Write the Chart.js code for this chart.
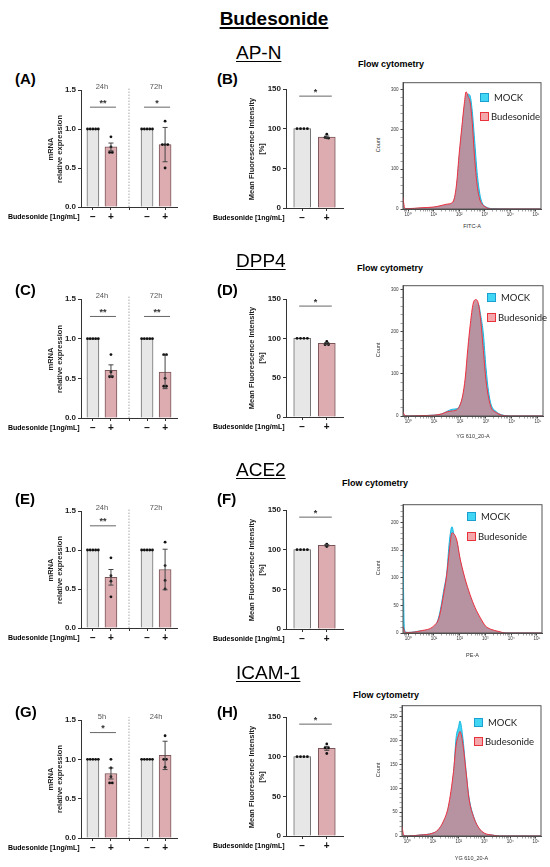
<!DOCTYPE html>
<html>
<head>
<meta charset="utf-8">
<script src="https://cdn.jsdelivr.net/npm/chart.js@4.4.1/dist/chart.umd.min.js"></script>
<style>
body { margin: 0; background: #fff; font-family: "Liberation Sans", Arial, sans-serif; }
#page { position: relative; width: 550px; height: 867px; overflow: hidden; }
.t { position: absolute; white-space: nowrap; color: #000; }
canvas { position: absolute; }
</style>
</head>
<body>
<div id="page"></div>
<script>
// ---- data ----
var treatLabels = ['\u2212', '+'];
var logTickLabels = ['10\u2070', '10\u00b9', '10\u00b2', '10\u00b3', '10\u2074', '10\u2075'];

// AP-N
var apnTimes = ['24h', '72h'];
var apnMrnaMean = [1.0, 0.77, 1.0, 0.80];
var apnMrnaErr = [0, 0.05, 0, 0.22];
var apnMrnaDots = [[1, 1, 1, 1, 1], [0.9, 0.77, 0.7, 0.7], [1, 1, 1, 1, 1], [1.1, 0.8, 0.8, 0.8, 0.5]];
var apnMrnaSig = ['**', '*'];
var apnMfiMean = [100, 89.5];
var apnMfiErr = [0, 1.2];
var apnMfiDots = [[100, 100, 100, 100], [93, 89, 88.5, 88]];
var apnFlowX = [-0.2, -0.15, -0.1, 0, 0.5, 1, 1.25, 1.5, 1.7, 1.8, 1.9, 2, 2.1, 2.2, 2.27, 2.35, 2.42, 2.5, 2.6, 2.7, 2.8, 2.9, 3.05, 3.3, 4, 5.2];
var apnFlowMock = [6, 2, 1, 1, 2, 4, 7, 10, 13, 22, 55, 130, 195, 255, 280, 288, 285, 252, 175, 92, 40, 15, 5, 1, 0, 0];
var apnFlowBud = [29, 6, 1, 1, 3, 5, 8, 12, 15, 25, 65, 140, 204, 265, 294, 282, 270, 225, 130, 60, 25, 12, 4, 0, 0, 0];

// DPP4
var dppTimes = ['24h', '72h'];
var dppMrnaMean = [1.0, 0.60, 1.0, 0.58];
var dppMrnaErr = [0, 0.07, 0, 0.21];
var dppMrnaDots = [[1, 1, 1, 1, 1], [0.8, 0.58, 0.52, 0.52], [1, 1, 1, 1, 1], [0.8, 0.8, 0.5, 0.4, 0.4]];
var dppMrnaSig = ['**', '**'];
var dppMfiMean = [100, 93.5];
var dppMfiErr = [0, 1.2];
var dppMfiDots = [[100, 100, 100, 100], [96, 94, 92, 92]];
var dppFlowX = [-0.2, -0.15, -0.1, 0, 0.5, 1, 1.3, 1.5, 1.7, 1.9, 2, 2.1, 2.2, 2.3, 2.4, 2.5, 2.6, 2.7, 2.8, 2.9, 3, 3.1, 3.2, 3.4, 3.6, 4, 5.2];
var dppFlowMock = [3, 1, 0, 0, 1, 2, 5, 11, 16, 18, 26, 44, 78, 142, 205, 252, 263, 266, 238, 195, 115, 58, 27, 10, 3, 0, 0];
var dppFlowBud = [10, 3, 1, 0, 1, 2, 5, 10, 12, 16, 26, 48, 90, 160, 220, 265, 276, 268, 225, 155, 85, 44, 20, 8, 2, 0, 0];

// ACE2
var aceTimes = ['24h', '72h'];
var aceMrnaMean = [1.0, 0.65, 1.0, 0.75];
var aceMrnaErr = [0, 0.10, 0, 0.26];
var aceMrnaDots = [[1, 1, 1, 1, 1], [0.9, 0.67, 0.6, 0.4], [1, 1, 1, 1, 1], [1.1, 0.8, 0.61, 0.5]];
var aceMrnaSig = ['**', ''];
var aceMfiMean = [100, 105.5];
var aceMfiErr = [0, 0.8];
var aceMfiDots = [[100, 100, 100, 100], [107, 106, 105, 104]];
var aceFlowX = [-0.2, -0.15, -0.1, 0, 0.5, 1, 1.2, 1.4, 1.5, 1.6, 1.7, 1.8, 1.9, 2, 2.1, 2.2, 2.4, 2.6, 2.8, 3, 3.2, 3.5, 3.8, 5.2];
var aceFlowMock = [148, 10, 2, 1, 4, 10, 31, 82, 109, 165, 192, 174, 163, 136, 115, 97, 67, 43, 25, 11, 6, 2, 0, 0];
var aceFlowBud = [12, 4, 1, 1, 4, 13, 28, 76, 106, 148, 181, 178, 166, 139, 118, 100, 70, 46, 28, 13, 7, 3, 0, 0];

// ICAM-1
var icamTimes = ['5h', '24h'];
var icamMrnaMean = [1.0, 0.82, 1.0, 1.05];
var icamMrnaErr = [0, 0.07, 0, 0.18];
var icamMrnaDots = [[1, 1, 1, 1, 1], [1.0, 0.89, 0.78, 0.7, 0.7], [1, 1, 1, 1, 1], [1.3, 1.0, 1.0, 0.9]];
var icamMrnaSig = ['*', ''];
var icamMfiMean = [100, 110.5];
var icamMfiErr = [0, 2.5];
var icamMfiDots = [[100, 100, 100, 100], [116, 111, 111, 104]];
var icamFlowX = [-0.2, -0.15, -0.1, 0, 0.5, 1, 1.2, 1.4, 1.6, 1.8, 1.9, 2, 2.05, 2.15, 2.3, 2.4, 2.6, 2.8, 3, 3.3, 3.6, 5.2];
var icamFlowMock = [6, 2, 1, 0, 2, 6, 12, 28, 58, 128, 205, 229, 241, 212, 130, 82, 38, 15, 5, 2, 0, 0];
var icamFlowBud = [20, 5, 1, 0, 2, 6, 13, 30, 62, 135, 190, 212, 219, 198, 128, 79, 37, 16, 6, 2, 0, 0];

// ---- layout ----
var rows = [
  { gene: 'AP-N', geneY: 53, letters: ['(A)', '(B)'], labY: 78, mT: 90, mB: 207, fT: 89, fB: 208,
    hL: 403, hR: 541, hT: 81, hB: 209, ftX: 358, ftY: 64, lgX: 480, lgY: [97, 116], xl: 'FITC-A', xlY: 226,
    hMax: 317, hStep: 100, sigY: 1.28,
    times: apnTimes, mMean: apnMrnaMean, mErr: apnMrnaErr, mDots: apnMrnaDots, mSig: apnMrnaSig,
    fMean: apnMfiMean, fErr: apnMfiErr, fDots: apnMfiDots, hx: apnFlowX, hMock: apnFlowMock, hBud: apnFlowBud },
  { gene: 'DPP4', geneY: 261, letters: ['(C)', '(D)'], labY: 289, mT: 299, mB: 418, fT: 299, fB: 417,
    hL: 403, hR: 543, hT: 284, hB: 416, ftX: 357, ftY: 268, lgX: 487, lgY: [297, 317], xl: 'YG 610_20-A', xlY: 436,
    hMax: 309, hStep: 100, sigY: 1.28,
    times: dppTimes, mMean: dppMrnaMean, mErr: dppMrnaErr, mDots: dppMrnaDots, mSig: dppMrnaSig,
    fMean: dppMfiMean, fErr: dppMfiErr, fDots: dppMfiDots, hx: dppFlowX, hMock: dppFlowMock, hBud: dppFlowBud },
  { gene: 'ACE2', geneY: 470, letters: ['(E)', '(F)'], labY: 498, mT: 511, mB: 628, fT: 510, fB: 629,
    hL: 403, hR: 542, hT: 503, hB: 633, ftX: 342, ftY: 483, lgX: 467, lgY: [516, 536], xl: 'PE-A', xlY: 655,
    hMax: 232, hStep: 50, sigY: 1.31,
    times: aceTimes, mMean: aceMrnaMean, mErr: aceMrnaErr, mDots: aceMrnaDots, mSig: aceMrnaSig,
    fMean: aceMfiMean, fErr: aceMfiErr, fDots: aceMfiDots, hx: aceFlowX, hMock: aceFlowMock, hBud: aceFlowBud },
  { gene: 'ICAM-1', geneY: 673, letters: ['(G)', '(H)'], labY: 711, mT: 720, mB: 838, fT: 717, fB: 836,
    hL: 402, hR: 541, hT: 704, hB: 836, ftX: 353, ftY: 695, lgX: 474, lgY: [722, 741], xl: 'YG 610_20-A', xlY: 858,
    hMax: 273, hStep: 50, sigY: 1.34,
    times: icamTimes, mMean: icamMrnaMean, mErr: icamMrnaErr, mDots: icamMrnaDots, mSig: icamMrnaSig,
    fMean: icamMfiMean, fErr: icamMfiErr, fDots: icamMfiDots, hx: icamFlowX, hMock: icamFlowMock, hBud: icamFlowBud }
];

Chart.defaults.font.family = '"Liberation Sans", Arial, sans-serif';
var page = document.getElementById('page');

function addText(html, x, y, css, center) {
  var d = document.createElement('div');
  d.className = 't';
  d.innerHTML = html;
  d.style.cssText += css;
  d.style.left = x + 'px';
  d.style.top = y + 'px';
  d.style.transform = center ? 'translate(-50%,-50%)' : 'translate(0,-50%)';
  page.appendChild(d);
  return d;
}
function addVText(html, x, y, css) {
  var d = addText(html, x, y, css + 'text-align:center;', true);
  d.style.transform = 'translate(-50%,-50%) rotate(-90deg)';
}
function addCanvas(left, top, w, h) {
  var c = document.createElement('canvas');
  c.width = w; c.height = h;
  c.style.left = left + 'px'; c.style.top = top + 'px';
  c.style.width = w + 'px'; c.style.height = h + 'px';
  page.appendChild(c);
  return c;
}

// horizontal spread of equal-valued dots
function spread(vals, tol, gap) {
  return vals.map(function (v, i) {
    var n = vals.filter(function (u) { return Math.abs(u - v) < tol; }).length;
    var k = vals.slice(0, i).filter(function (u) { return Math.abs(u - v) < tol; }).length;
    return (k - (n - 1) / 2) * gap;
  });
}

var axisGrid = { drawOnChartArea: false, offset: false, tickLength: 3, color: '#333' };
var axisBorder = { color: '#333', width: 1 };

function barPanel(o) {
  var padTop = 16, xh = 18;
  var w = o.yw + (o.right - o.axisX) + 3;
  var h = padTop + (o.bottom - o.top) + xh;
  var cv = addCanvas(o.axisX - o.yw, o.top - padTop, w, h);
  var pts = [];
  o.dots.forEach(function (grp, i) {
    var off = spread(grp, o.tol, o.dotGap);
    grp.forEach(function (v, j) { pts.push({ x: o.pos[i] + off[j], y: v }); });
  });
  var decor = {
    id: 'decor',
    afterDatasetsDraw: function (chart) {
      var g = chart.ctx, xs = chart.scales.x, ys = chart.scales.y, a = chart.chartArea;
      g.save();
      g.strokeStyle = '#444'; g.lineWidth = 1;
      o.means.forEach(function (m, i) {
        if (!o.errs[i]) return;
        var x = xs.getPixelForValue(o.pos[i]);
        var y1 = ys.getPixelForValue(m + o.errs[i]), y2 = ys.getPixelForValue(m - o.errs[i]);
        g.beginPath();
        g.moveTo(x, y1); g.lineTo(x, y2);
        g.moveTo(x - 2.5, y1); g.lineTo(x + 2.5, y1);
        g.moveTo(x - 2.5, y2); g.lineTo(x + 2.5, y2);
        g.stroke();
      });
      if (o.split !== undefined) {
        var sx = xs.getPixelForValue(o.split);
        g.strokeStyle = '#aaa'; g.setLineDash([1.5, 1.5]);
        g.beginPath(); g.moveTo(sx, a.bottom); g.lineTo(sx, a.top - 3); g.stroke();
        g.setLineDash([]);
      }
      g.textAlign = 'center'; g.textBaseline = 'middle';
      (o.times || []).forEach(function (t, k) {
        var x = (xs.getPixelForValue(o.pos[2 * k]) + xs.getPixelForValue(o.pos[2 * k + 1])) / 2;
        g.fillStyle = '#555'; g.font = '7.5px "Liberation Sans", Arial';
        g.fillText(t, x, a.top - 3);
      });
      o.sigs.forEach(function (s, k) {
        if (!s) return;
        var x1 = xs.getPixelForValue(o.pos[2 * k]) - 3, x2 = xs.getPixelForValue(o.pos[2 * k + 1]) + 5;
        var y = ys.getPixelForValue(o.sigY);
        g.strokeStyle = '#666'; g.lineWidth = 1;
        g.beginPath(); g.moveTo(x1, y); g.lineTo(x2, y); g.stroke();
        g.fillStyle = '#333'; g.font = 'bold 9px "Liberation Sans", Arial';
        g.fillText(s, (x1 + x2) / 2, y - 4);
      });
      g.restore();
    }
  };
  new Chart(cv, {
    type: 'bar',
    data: {
      datasets: [
        { type: 'bar', order: 2,
          data: o.means.map(function (m, i) { return { x: o.pos[i], y: m }; }),
          backgroundColor: o.means.map(function (m, i) { return i % 2 ? '#dcacb0' : '#e7e7e7'; }),
          borderColor: o.means.map(function (m, i) { return i % 2 ? '#7a5558' : '#6f6f6f'; }),
          borderWidth: 1, barThickness: o.barW },
        { type: 'scatter', order: 1, data: pts, pointRadius: 1.4, pointBorderWidth: 0,
          pointBackgroundColor: '#111' }
      ]
    },
    options: {
      responsive: false, animation: false, events: [],
      layout: { padding: { top: padTop, right: 3, left: 0, bottom: 0 } },
      plugins: { legend: { display: false }, tooltip: { enabled: false } },
      scales: {
        x: {
          type: 'linear', min: o.xMin, max: o.xMax, offset: false,
          afterBuildTicks: function (s) { s.ticks = o.tickPos.map(function (v) { return { value: v }; }); },
          afterFit: function (s) { s.height = xh; },
          ticks: { autoSkip: false, maxRotation: 0, padding: 1, color: '#111',
            font: { size: 10, weight: 'bold' },
            callback: function (v, i) { return o.tickText[i]; } },
          grid: axisGrid, border: axisBorder
        },
        y: {
          min: 0, max: o.yMax,
          afterFit: function (s) { s.width = o.yw; },
          ticks: { stepSize: o.yStep, padding: 2, color: '#222', font: { size: o.yFont, weight: 'bold' },
            callback: o.yFmt },
          grid: axisGrid, border: axisBorder
        }
      }
    },
    plugins: [decor]
  });
}

function isWhole(v) { return Math.abs(v - Math.round(v)) < 1e-9; }

function flowPanel(r) {
  var yw = 16, pt = 3, xh = 12;
  var cv = addCanvas(r.hL - yw, r.hT - pt, yw + (r.hR - r.hL) + 4, pt + (r.hB - r.hT) + xh);
  var frame = {
    id: 'frame',
    afterDraw: function (chart) {
      var g = chart.ctx, a = chart.chartArea;
      g.save(); g.strokeStyle = '#555'; g.lineWidth = 1;
      g.strokeRect(a.left, a.top, a.right - a.left, a.bottom - a.top);
      g.restore();
    }
  };
  var small = { size: 4.5 };
  var minorStep = r.hStep / 5;
  new Chart(cv, {
    type: 'line',
    data: {
      datasets: [
        { label: 'Budesonide', order: 0, fill: 'origin', pointRadius: 0, cubicInterpolationMode: 'monotone',
          data: r.hx.map(function (x, i) { return { x: x, y: r.hBud[i] }; }),
          borderColor: '#f2303f', borderWidth: 1, backgroundColor: 'rgba(196,140,152,0.9)' },
        { label: 'MOCK', order: 1, fill: 'origin', pointRadius: 0, cubicInterpolationMode: 'monotone',
          data: r.hx.map(function (x, i) { return { x: x, y: r.hMock[i] }; }),
          borderColor: '#19b6e0', borderWidth: 1, backgroundColor: '#3fd6f3' }
      ]
    },
    options: {
      responsive: false, animation: false, events: [],
      layout: { padding: { top: pt, right: 4, left: 0, bottom: 0 } },
      plugins: { legend: { display: false }, tooltip: { enabled: false } },
      scales: {
        x: {
          type: 'linear', min: -0.2, max: 5.2,
          afterBuildTicks: function (s) {
            var t = [];
            for (var d = -1; d <= 5; d++) {
              for (var k = 1; k <= 9; k++) {
                var v = d + Math.log10(k);
                if (v >= -0.2 && v <= 5.2) t.push({ value: v });
              }
            }
            s.ticks = t;
          },
          afterFit: function (s) { s.height = xh; },
          ticks: { autoSkip: false, maxRotation: 0, padding: 1, color: '#333', font: small,
            callback: function (v) { return isWhole(v) ? logTickLabels[Math.round(v)] : ''; } },
          grid: { drawOnChartArea: false, tickLength: 2.5, color: '#444',
            tickWidth: function (c) { return c.tick && isWhole(c.tick.value) ? 1 : 0.5; } },
          border: { color: '#444', width: 1 }
        },
        y: {
          min: 0, max: r.hMax,
          afterBuildTicks: function (s) {
            var t = [];
            for (var v = 0; v <= r.hMax; v += minorStep) t.push({ value: v });
            s.ticks = t;
          },
          afterFit: function (s) { s.width = yw; },
          ticks: { autoSkip: false, padding: 2, color: '#333', font: small,
            callback: function (v) { return isWhole(v / r.hStep) ? String(Math.round(v)) : ''; } },
          grid: { drawOnChartArea: false, tickLength: 2.5, color: '#444',
            tickWidth: function (c) { return c.tick && isWhole(c.tick.value / r.hStep) ? 1 : 0.5; } },
          border: { color: '#444', width: 1 }
        }
      }
    },
    plugins: [frame]
  });
}

addText('Budesonide', 274, 19, 'font-weight:bold;font-size:19px;text-decoration:underline;text-decoration-thickness:2px;text-underline-offset:2px;', true);

rows.forEach(function (r) {
  addText(r.gene, 236, r.geneY, 'font-size:19px;text-decoration:underline;text-underline-offset:2px;');
  addText(r.letters[0], 15, r.labY, 'font-weight:bold;font-size:15px;');
  addText(r.letters[1], 217, r.labY, 'font-weight:bold;font-size:15px;');

  // mRNA panel
  barPanel({
    axisX: 81, right: 178, top: r.mT, bottom: r.mB, yw: 22,
    xMin: -0.66, xMax: 4.66, pos: [0, 1, 3, 4], split: 2,
    tickPos: [0, 1, 2, 3, 4], tickText: [treatLabels[0], treatLabels[1], '', treatLabels[0], treatLabels[1]],
    means: r.mMean, errs: r.mErr, dots: r.mDots, tol: 0.015, dotGap: 0.15, barW: 12,
    yMax: 1.5, yStep: 0.5, yFont: 8, yFmt: function (v) { return v.toFixed(1); },
    times: r.times, sigs: r.mSig, sigY: r.sigY
  });
  addVText('mRNA<br>relative expression', 55, (r.mT + r.mB) / 2, 'font-size:7.5px;font-weight:bold;line-height:9px;color:#222;');
  addText('Budesonide [1ng/mL]', 8, r.mB + 9, 'font-size:7px;font-weight:bold;');

  // MFI panel
  barPanel({
    axisX: 286, right: 344, top: r.fT, bottom: r.fB, yw: 22,
    xMin: -0.66, xMax: 1.66, pos: [0, 1],
    tickPos: [0, 1], tickText: treatLabels,
    means: r.fMean, errs: r.fErr, dots: r.fDots, tol: 0.6, dotGap: 0.14, barW: 17,
    yMax: 150, yStep: 50, yFont: 8, yFmt: function (v) { return String(v); },
    sigs: ['*'], sigY: 141
  });
  addVText('Mean Fluorescence Intensity<br>[%]', 257, (r.fT + r.fB) / 2, 'font-size:7.5px;font-weight:bold;line-height:10px;color:#222;');
  addText('Budesonide [1ng/mL]', 213, r.fB + 9, 'font-size:7px;font-weight:bold;');

  // flow cytometry histogram
  addText('Flow cytometry', r.ftX, r.ftY, 'font-size:9px;font-weight:bold;');
  flowPanel(r);
  addVText('Count', 378, (r.hT + r.hB) / 2, 'font-size:5.5px;color:#333;');
  addText(r.xl, (r.hL + r.hR) / 2, r.xlY, 'font-size:5.5px;color:#333;', true);

  var box1 = document.createElement('div');
  box1.style.cssText = 'position:absolute;width:7px;height:7px;background:#41d7f4;border:1px solid #1a9fd0;';
  box1.style.left = r.lgX + 'px'; box1.style.top = (r.lgY[0] - 4.5) + 'px';
  page.appendChild(box1);
  var box2 = document.createElement('div');
  box2.style.cssText = 'position:absolute;width:7px;height:7px;background:#f3a7aa;border:1px solid #e8333d;';
  box2.style.left = r.lgX + 'px'; box2.style.top = (r.lgY[1] - 4.5) + 'px';
  page.appendChild(box2);
  addText('MOCK', r.lgX + 14, r.lgY[0], 'font-family:Lato,sans-serif;font-size:9.5px;color:#222;');
  addText('Budesonide', r.lgX + 11, r.lgY[1], 'font-family:Lato,sans-serif;font-size:9.5px;color:#222;');
});
</script>
</body>
</html>
